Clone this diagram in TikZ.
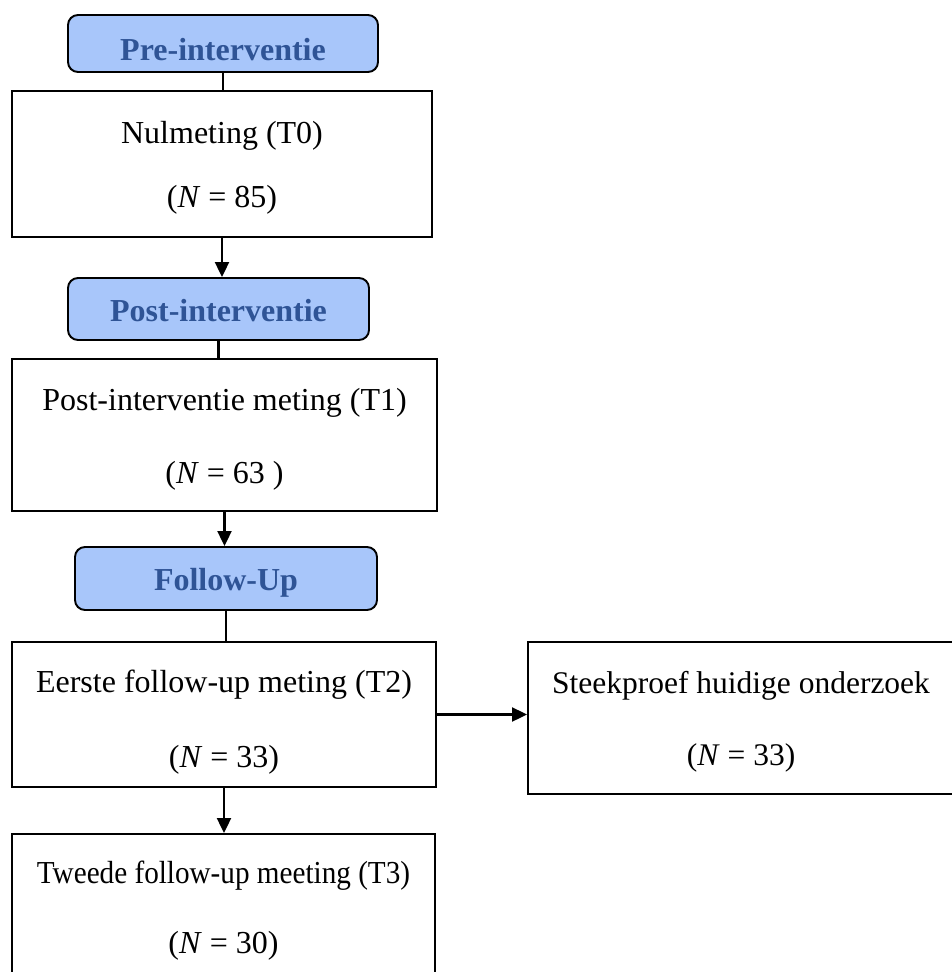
\documentclass[tikz,border=0pt]{standalone}
\usepackage{graphicx}
\usepackage{fontspec}
\setmainfont{Liberation Serif}
\usetikzlibrary{arrows.meta}
\definecolor{hdrfill}{RGB}{168,198,250}
\definecolor{hdrtext}{RGB}{47,84,150}
\begin{document}
\begin{tikzpicture}[x=1pt,y=-1pt,
  hdr/.style={draw, line width=1.9pt, rounded corners=10pt, fill=hdrfill, text=hdrtext,
    font=\bfseries\fontsize{32}{38}\selectfont, inner sep=0pt, text depth=0pt},
  box/.style={draw, line width=1.9pt, align=center, inner sep=0pt, text depth=0pt},
  conn/.style={line width=2.1pt},
  arr/.style={line width=2.1pt, -{Triangle[length=15pt,width=14pt]}}]
\useasboundingbox (0,0) rectangle (952,972);
\clip (0,0) rectangle (952,972);
\fill[white] (0,0) rectangle (952,972);

\node[hdr, minimum width=310pt, minimum height=57pt, text height=33pt] (h1) at (223,43.5) {Pre-interventie};
\node[box, minimum width=420pt, minimum height=146pt, text height=87.2pt, font=\fontsize{32}{64}\selectfont] (b1) at (222,164)
  {Nulmeting (T0)\\(\textit{N} = 85)};
\node[hdr, minimum width=301pt, minimum height=62pt, text height=25pt] (h2) at (218.5,309) {Post-interventie};
\node[box, minimum width=425pt, minimum height=152pt, text height=97.2pt, font=\fontsize{32}{73}\selectfont] (b2) at (224.5,435)
  {Post-interventie meting (T1)\\(\textit{N} = 63 )};
\node[hdr, minimum width=302pt, minimum height=63pt, text height=24pt] (h3) at (226,578.5) {Follow-Up};
\node[box, minimum width=424pt, minimum height=145pt, text height=106.2pt, font=\fontsize{32}{75}\selectfont] (b3) at (224,714.5)
  {Eerste follow-up meting (T2)\\(\textit{N} = 33)};
\node[box, minimum width=426pt, minimum height=152pt, text height=95pt, font=\fontsize{31.5}{72}\selectfont] (b4) at (741,718)
  {Steekproef huidige onderzoek\\(\textit{N} = 33)};
\node[box, minimum width=423pt, minimum height=148pt, text height=91.2pt, font=\fontsize{32}{70}\selectfont] (b5) at (223.5,908)
  {\scalebox{0.912}[1]{Tweede follow-up meeting (T3)}\\(\textit{N} = 30)};

\draw[conn] (h1.south) -- (h1.south |- b1.north);
\draw[arr] (b1.south) -- (b1.south |- h2.north);
\draw[conn] (h2.south) -- (h2.south |- b2.north);
\draw[arr] (b2.south) -- (b2.south |- h3.north);
\draw[conn] (h3.south) -- (h3.south |- b3.north);
\draw[arr] (b3.east) -- (b3.east -| b4.west);
\draw[arr] (b3.south) -- (b3.south |- b5.north);
\end{tikzpicture}
\end{document}
